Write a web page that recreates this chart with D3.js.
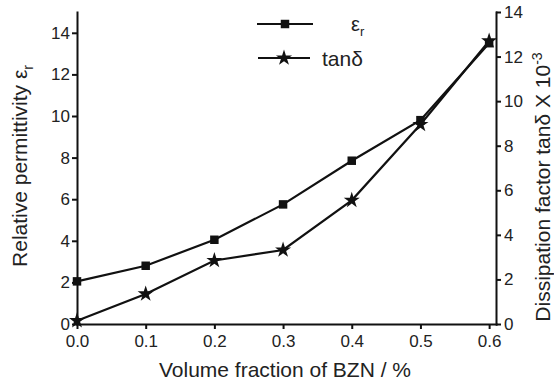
<!DOCTYPE html>
<html lang="en">
<meta charset="utf-8">
<script src="https://d3js.org/d3.v7.min.js"></script>
<style>
    body { margin: 0; background: #fff; }
    .axis text { font: 17px "Liberation Sans", Arial, sans-serif; fill: #222; }
    .axis path, .axis line { stroke: #111; stroke-width: 2; }
    .label { font: 20px "Liberation Sans", Arial, sans-serif; fill: #222; }
</style>
<svg id="base" width="554" height="389"></svg>

<script>
    // data
    var fraction = [0.0, 0.1, 0.2, 0.3, 0.4, 0.5, 0.6];
    var permittivity = [2.05, 2.8, 4.05, 5.75, 7.85, 9.8, 13.5];
    var tanDelta = [0.15, 1.35, 2.85, 3.32, 5.55, 8.95, 12.7];
    var xTicks = [0.0, 0.1, 0.2, 0.3, 0.4, 0.5, 0.6];
    var leftTicks = [0, 2, 4, 6, 8, 10, 12, 14];
    var rightTicks = [0, 2, 4, 6, 8, 10, 12, 14];

    var padL = 77, padR = 496, padT = 12, padB = 324;

    var svg = d3.select("#base");

    var x = d3.scaleLinear().domain([0, 0.61]).range([padL, padR]);
    var yL = d3.scaleLinear().domain([0, 15]).range([padB, padT]);
    var yR = d3.scaleLinear().domain([0, 14]).range([padB, padT]);

    svg.append("g")
        .attr("class", "axis")
        .attr("transform", "translate(0," + padB + ")")
        .call(d3.axisBottom(x).tickValues(xTicks).tickFormat(d3.format(".1f"))
            .tickSize(5).tickSizeOuter(0).tickPadding(6));

    svg.append("g")
        .attr("class", "axis")
        .attr("transform", "translate(" + padL + ",0)")
        .call(d3.axisLeft(yL).tickValues(leftTicks).tickSize(5).tickSizeOuter(0).tickPadding(2));

    svg.append("g")
        .attr("class", "axis")
        .attr("transform", "translate(" + padR + ",0)")
        .call(d3.axisRight(yR).tickValues(rightTicks).tickSize(5).tickSizeOuter(0).tickPadding(3));

    svg.selectAll(".axis .domain").attr("stroke-linecap", "square");

    // axis titles
    svg.append("text")
        .attr("class", "label")
        .attr("x", 285)
        .attr("y", 377)
        .attr("text-anchor", "middle")
        .style("font-size", "21px")
        .text("Volume fraction of BZN / %");

    var lt = svg.append("text")
        .attr("class", "label")
        .attr("transform", "translate(27,166) rotate(-90)")
        .attr("text-anchor", "middle")
        .style("font-size", "21px");
    lt.append("tspan").text("Relative permittivity \u03b5");
    lt.append("tspan").attr("dy", 6).style("font-size", "14px").text("r");

    var rt = svg.append("text")
        .attr("class", "label")
        .attr("transform", "translate(550,187) rotate(-90)")
        .attr("text-anchor", "middle")
        .style("font-size", "21px");
    rt.append("tspan").text("Dissipation factor  tan\u03b4 X 10");
    rt.append("tspan").attr("dy", -8).style("font-size", "14px").text("-3");

    var pts = fraction.map(function (f, i) {
        return { x: f, e: permittivity[i], t: tanDelta[i] };
    });

    var lineE = d3.line().x(function (d) { return x(d.x); }).y(function (d) { return yL(d.e); });
    var lineT = d3.line().x(function (d) { return x(d.x); }).y(function (d) { return yR(d.t); });

    svg.append("path").datum(pts)
        .attr("d", lineT).attr("fill", "none").attr("stroke", "#111").attr("stroke-width", 2.2);
    svg.append("path").datum(pts)
        .attr("d", lineE).attr("fill", "none").attr("stroke", "#111").attr("stroke-width", 2.2);

    var square = d3.symbol().type(d3.symbolSquare).size(72);
    var star = d3.symbol().type(d3.symbolStar).size(80);

    svg.append("g").selectAll("path")
        .data(pts).enter().append("path")
        .attr("transform", function (d) { return "translate(" + x(d.x) + "," + yR(d.t) + ")"; })
        .attr("d", star).attr("fill", "#111");

    svg.append("g").selectAll("path")
        .data(pts).enter().append("path")
        .attr("transform", function (d) { return "translate(" + x(d.x) + "," + yL(d.e) + ")"; })
        .attr("d", square).attr("fill", "#111");

    // legend
    var legend = svg.append("g");
    legend.append("line").attr("x1", 257).attr("x2", 313).attr("y1", 24).attr("y2", 24)
        .attr("stroke", "#111").attr("stroke-width", 2.2);
    legend.append("path").attr("transform", "translate(285,24)").attr("d", square).attr("fill", "#111");
    var le = legend.append("text").attr("class", "label").attr("x", 351).attr("y", 31);
    le.append("tspan").text("\u03b5");
    le.append("tspan").attr("dy", 5).style("font-size", "13px").text("r");

    legend.append("line").attr("x1", 258).attr("x2", 310).attr("y1", 58).attr("y2", 58)
        .attr("stroke", "#111").attr("stroke-width", 2.2);
    legend.append("path").attr("transform", "translate(284,58)").attr("d", star).attr("fill", "#111");
    legend.append("text").attr("class", "label").attr("x", 322).attr("y", 66)
        .style("font-size", "21px").text("tan\u03b4");
</script>
</html>
